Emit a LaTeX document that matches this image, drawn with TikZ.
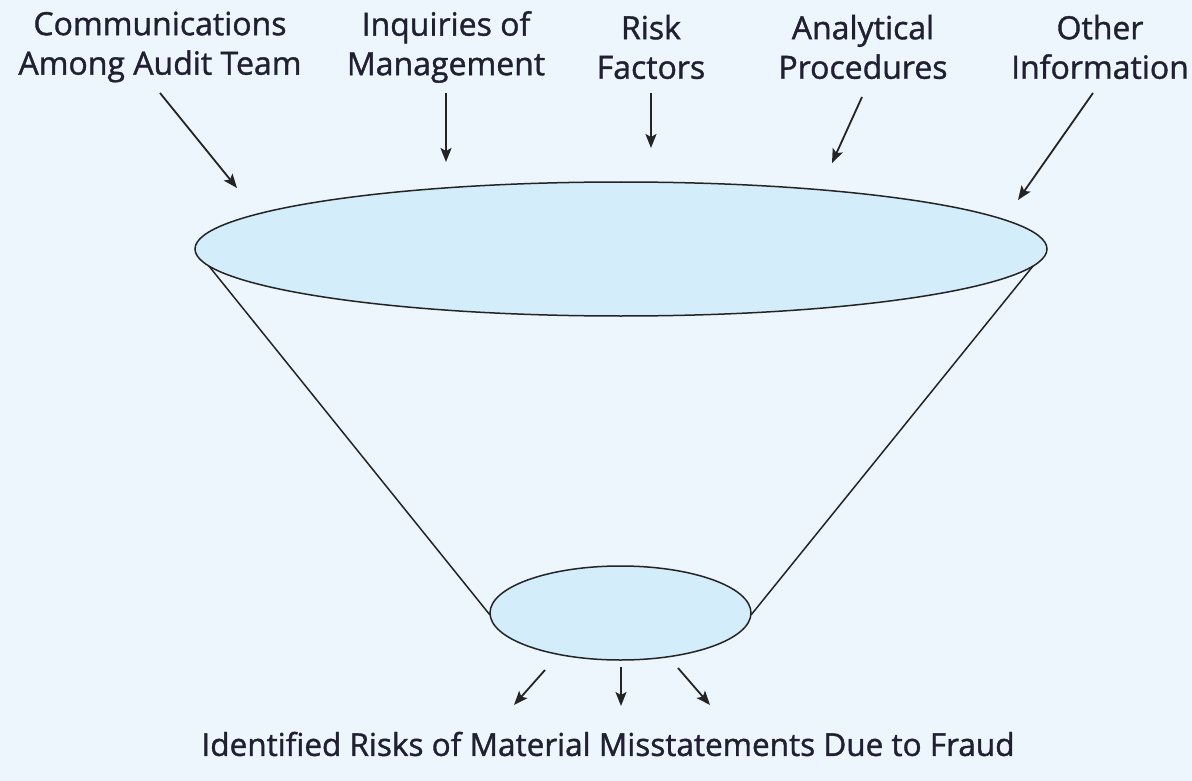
\documentclass[tikz,border=0pt]{standalone}
\usepackage{fontspec}
\setmainfont{Open Sans}
\newfontfamily\lblfont{Open Sans}[FakeBold=1.2]
\usetikzlibrary{arrows.meta}
\definecolor{bgblue}{RGB}{237,246,253}
\definecolor{lensblue}{RGB}{212,237,251}
\definecolor{inktext}{RGB}{32,32,50}
\definecolor{inkline}{RGB}{36,36,36}
\begin{document}
\begin{tikzpicture}[x=1pt,y=-1pt,
  lbl/.style={align=center,inner sep=0pt,text=inktext,
    font=\lblfont\fontsize{32}{39.5}\selectfont},
  feed/.style={draw=inkline,line width=1.8pt,
    -{Stealth[length=14pt,width=11pt,inset=3pt]}},
  rim/.style={draw=inkline,line width=1.5pt,fill=lensblue},
  side/.style={draw=inkline,line width=1.5pt}]
  % background
  \fill[bgblue] (0,0) rectangle (1192,781);
  \useasboundingbox (0,0) rectangle (1192,781);

  % funnel sides
  \coordinate (topL) at (196,250);
  \coordinate (topR) at (1046,250);
  \coordinate (botL) at (490,615);
  \coordinate (botR) at (751,615);
  \draw[side] (topL) -- (botL);
  \draw[side] (topR) -- (botR);

  % funnel mouth and outlet
  \path[rim] (621,249) ellipse [x radius=426, y radius=67];
  \path[rim] (620.5,613) ellipse [x radius=130.5, y radius=47];

  % input labels
  \node[lbl] (comm) at (160,47) {Communications\\Among Audit Team};
  \node[lbl] (inq)  at (446,47) {Inquiries of\\Management};
  \node[lbl] (risk) at (651,47) {Risk\\Factors};
  \node[lbl] (anal) at (863,47) {Analytical\\Procedures};
  \node[lbl] (oth)  at (1100,47) {Other\\Information};

  % arrow targets at the mouth
  \coordinate (tComm) at (237,188);
  \coordinate (tInq)  at (446,162);
  \coordinate (tRisk) at (651,148);
  \coordinate (tAnal) at (832,163);
  \coordinate (tOth)  at (1018,200);

  \draw[feed] (160,93) -- (tComm);
  \draw[feed] (inq.south |- 0,93) -- (tInq);
  \draw[feed] (risk.south |- 0,93) -- (tRisk);
  \draw[feed] (862,97) -- (tAnal);
  \draw[feed] (1093,93) -- (tOth);

  % outputs
  \coordinate (oL) at (514,705);
  \coordinate (oM) at (621,706);
  \coordinate (oR) at (710,705);
  \draw[feed] (545,670) -- (oL);
  \draw[feed] (621,667) -- (oM);
  \draw[feed] (678,668) -- (oR);

  \node[lbl,font=\lblfont\fontsize{31.5}{39.5}\selectfont] (result) at (608,744)
    {Identified Risks of Material Misstatements Due to Fraud};
\end{tikzpicture}
\end{document}
